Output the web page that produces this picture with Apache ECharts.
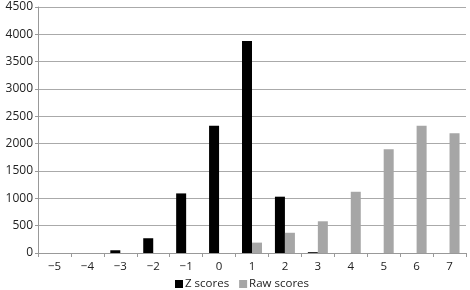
<!DOCTYPE html>
<html><head><meta charset="utf-8">
<script src="https://cdn.jsdelivr.net/npm/echarts@6/dist/echarts.min.js"></script>
<style>html,body{margin:0;padding:0;background:#fff}#c{width:470px;height:290px}</style>
</head><body><div id="c"></div>
<script>
const categories = ['\u22125','\u22124','\u22123','\u22122','\u22121','0','1','2','3','4','5','6','7'];
const zScores = [0, 0, 50, 270, 1090, 2330, 3880, 1030, 15, 0, 0, 0, 0];
const rawScores = [0, 0, 0, 0, 0, 0, 190, 370, 580, 1120, 1900, 2330, 2190];
const yTicks = [0, 4500, 500];

const chart = echarts.init(document.getElementById('c'), null, {renderer: 'canvas'});
const font = 'Open Sans';
chart.setOption({
  animation: false,
  textStyle: {fontFamily: font},
  grid: {left: 38, right: 4, top: 7, bottom: 37, containLabel: false},
  legend: {
    left: 175, top: 278, padding: 0, itemWidth: 8, itemHeight: 8, itemGap: 10,
    icon: 'rect',
    textStyle: {fontFamily: font, fontSize: 11.5, color: '#222', padding: [0,0,0,-3]},
    data: ['Z scores', 'Raw scores']
  },
  xAxis: {
    type: 'category', data: categories,
    axisLine: {lineStyle: {color: '#999', width: 1}},
    axisTick: {show: true, length: 4, lineStyle: {color: '#999'}},
    axisLabel: {color: '#222', fontSize: 11.5, margin: 8, fontFamily: font}
  },
  yAxis: {
    type: 'value', min: yTicks[0], max: yTicks[1], interval: yTicks[2],
    axisLine: {show: true, lineStyle: {color: '#999'}},
    axisTick: {show: true, length: 3, lineStyle: {color: '#999'}},
    splitLine: {lineStyle: {color: '#aaa', width: 1}},
    axisLabel: {color: '#222', fontSize: 12, margin: 5, fontFamily: font, formatter: v => String(v)}
  },
  series: [
    {name: 'Z scores', type: 'bar', data: zScores, barWidth: 10, barGap: '0%', itemStyle: {color: '#000'}},
    {name: 'Raw scores', type: 'bar', data: rawScores, barWidth: 10, itemStyle: {color: '#a6a6a6'}}
  ]
});
</script></body></html>
